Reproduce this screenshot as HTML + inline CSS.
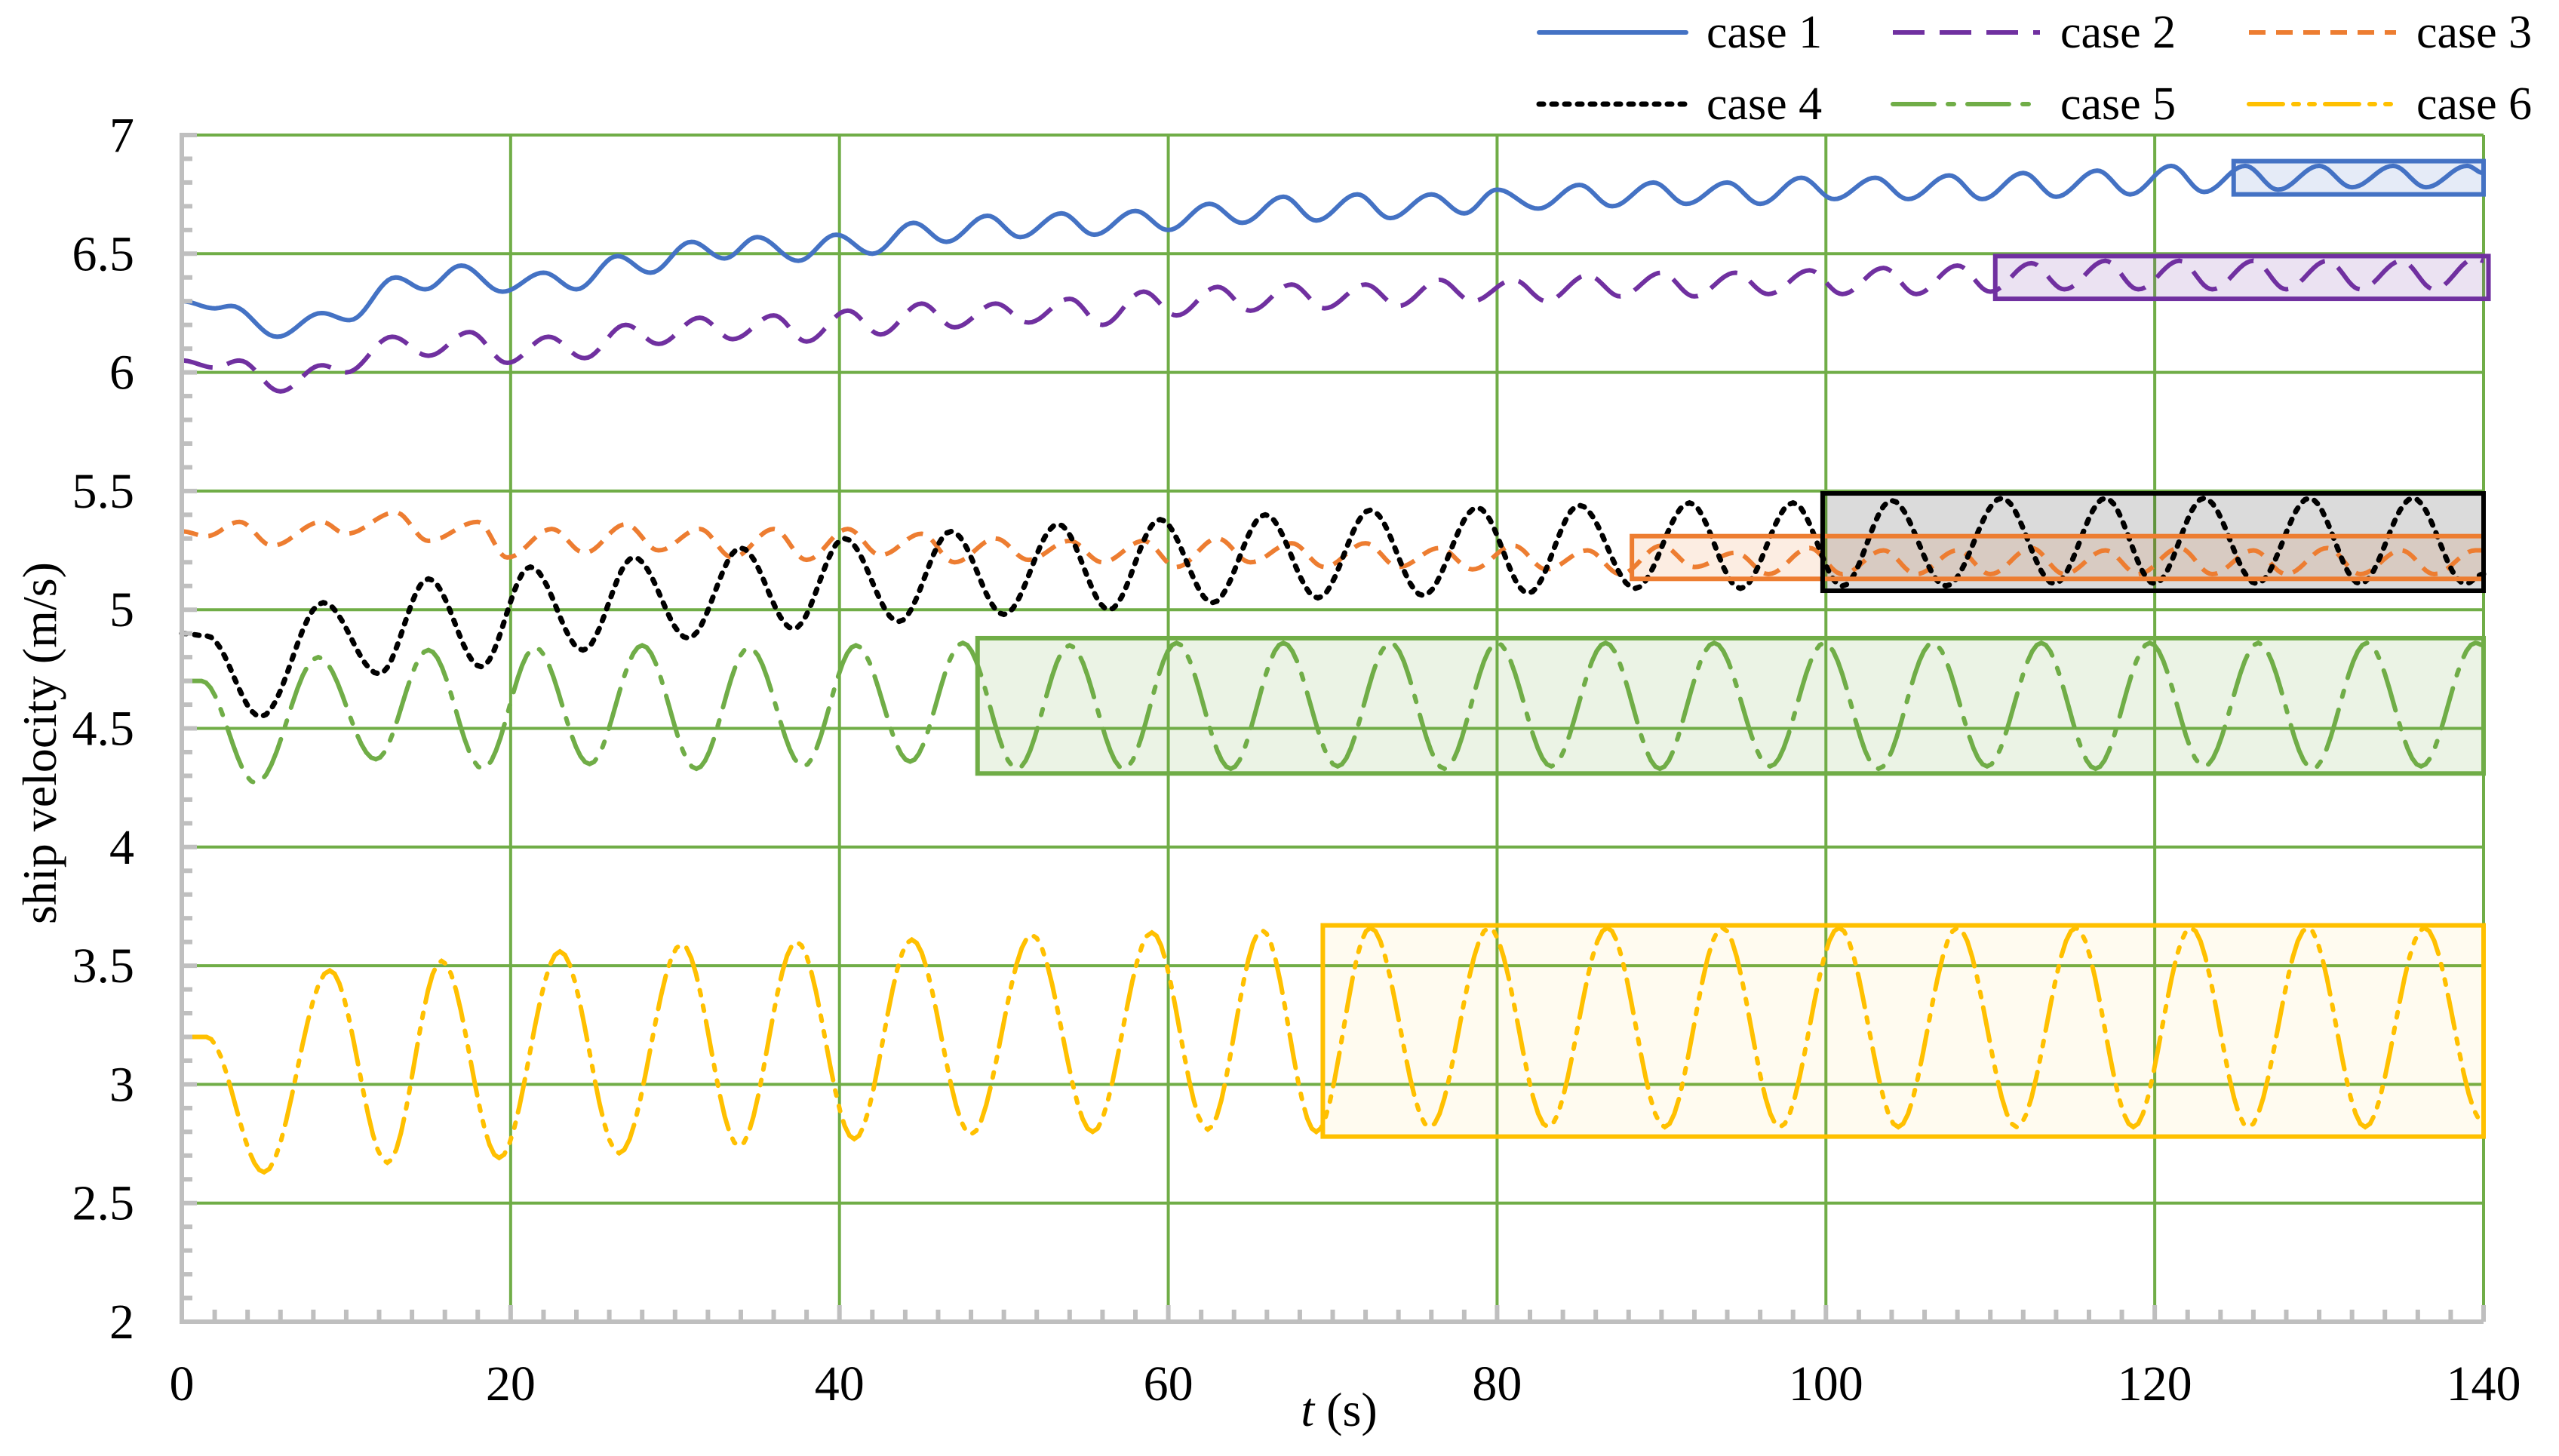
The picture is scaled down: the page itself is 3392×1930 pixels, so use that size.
<!DOCTYPE html>
<html><head><meta charset="utf-8"><style>
html,body{margin:0;padding:0;background:#fff;}
svg{display:block;font-family:"Liberation Serif",serif;}
</style></head><body>
<svg id="chart" width="3392" height="1930" viewBox="0 0 3392 1930" xmlns="http://www.w3.org/2000/svg">
<g id="grid"></g>
<g id="boxfill"></g>
<g id="series"></g>
<g id="boxes"></g>
<g id="axes"></g>
<g id="legend"></g>
<text x="0" y="0" font-size="64" text-anchor="middle" transform="translate(74,985) rotate(-90)">ship velocity (m/s)</text>
<text x="1775" y="1890" font-size="64" text-anchor="middle"><tspan font-style="italic">t</tspan> (s)</text>
</svg>
<script>
const xTicks=[0,20,40,60,80,100,120,140];
const yTicks=[2,2.5,3,3.5,4,4.5,5,5.5,6,6.5,7];
const names=["case 1","case 2","case 3","case 4","case 5","case 6"];
const t1=[0,2,3,5.8,8.5,10.2,13,14.8,17,19.5,22,24,26.5,28.5,31,33,35,37.5,39.8,42,44.5,46.5,49,51,53.5,55.5,58,60,62.5,64.5,67,69,71.5,73.5,76,78,80,82.5,85,87,89.5,91.5,94,96,98.5,100.5,103,105,107.5,109.5,112,114,116.5,118.5,121,123,125.5,127.5,130,132,134.5,136.5,139,140];
const v1=[6.30,6.27,6.28,6.15,6.25,6.22,6.40,6.35,6.45,6.34,6.42,6.35,6.49,6.42,6.55,6.48,6.57,6.47,6.58,6.50,6.63,6.55,6.66,6.57,6.67,6.58,6.68,6.60,6.71,6.63,6.74,6.64,6.75,6.65,6.75,6.67,6.77,6.69,6.79,6.70,6.80,6.71,6.80,6.71,6.82,6.73,6.82,6.73,6.83,6.73,6.84,6.74,6.85,6.75,6.87,6.76,6.87,6.77,6.87,6.78,6.87,6.78,6.87,6.84];
const t2=[0,2,3.5,6,8.5,10,12.8,15,17.5,19.8,22.3,24.5,27,29,31.5,33.5,36,38,40.5,42.5,45,47,49.5,51.5,54,56,58.5,60.5,63,65,67.5,69.5,72,74,76.5,78.5,81,83,85.5,87.5,90,92,94.5,96.5,99,101,103.5,105.5,108,110,112.5,114.5,117,119,121.5,123.5,126,128,130.5,132.5,135,137,139.5,140];
const v2=[6.05,6.02,6.05,5.92,6.03,6.0,6.15,6.07,6.17,6.04,6.15,6.06,6.2,6.12,6.23,6.14,6.24,6.13,6.26,6.16,6.29,6.19,6.29,6.21,6.31,6.2,6.34,6.24,6.36,6.26,6.37,6.27,6.37,6.28,6.39,6.3,6.39,6.3,6.41,6.32,6.42,6.32,6.42,6.33,6.43,6.33,6.44,6.33,6.45,6.34,6.46,6.35,6.47,6.35,6.47,6.35,6.47,6.35,6.47,6.35,6.47,6.35,6.48,6.47];
const t3=[0,1.5,3.5,5.5,8.5,10,13,15,18,19.8,22.5,24.5,27,29,31.5,33.5,36,38,40.5,42.5,45,47,49.5,51.5,54,56,58.5,60.5,63,65,67.5,69.5,72,74,76.5,78.5,81,83,85.5,87.5,90,92,94.5,96.5,99,101,103.5,105.5,108,110,112.5,114.5,117,119,121.5,123.5,126,128,130.5,132.5,135,137,139.5,140];
const v3=[5.33,5.31,5.37,5.27,5.37,5.32,5.41,5.29,5.37,5.22,5.34,5.24,5.36,5.25,5.34,5.22,5.34,5.21,5.34,5.23,5.32,5.2,5.3,5.21,5.29,5.2,5.29,5.18,5.3,5.2,5.28,5.18,5.28,5.18,5.26,5.17,5.27,5.17,5.25,5.15,5.27,5.18,5.24,5.15,5.26,5.15,5.25,5.15,5.25,5.15,5.26,5.15,5.25,5.15,5.26,5.15,5.25,5.15,5.26,5.15,5.25,5.15,5.25,5.25];
const t4=[0,1.5,4.8,8.6,12,15,18.2,21.2,24.4,27.5,30.8,34,37.2,40.3,43.6,46.8,50,53.3,56.4,59.5,62.7,65.9,69.1,72.3,75.5,78.8,81.9,85,88.4,91.7,94.8,98,101,104,107.3,110.7,113.9,117,120,123,126.2,129.4,132.5,135.7,138.9,140];
const v4=[4.9,4.89,4.55,5.03,4.73,5.13,4.76,5.18,4.83,5.22,4.88,5.26,4.92,5.3,4.95,5.33,4.98,5.36,5.0,5.38,5.03,5.4,5.05,5.42,5.06,5.43,5.07,5.44,5.09,5.45,5.09,5.45,5.1,5.46,5.1,5.47,5.11,5.47,5.11,5.47,5.11,5.47,5.11,5.47,5.11,5.15];
const t5=[0,1.2,4.5,8.3,11.8,15,18.3,21.5,24.8,28,31.3,34.5,37.8,41,44.3,47.5,50.8,54,57.3,60.5,63.8,67,70.3,73.5,76.8,80,83.3,86.6,89.9,93.2,96.6,99.9,103.2,106.5,109.8,113.1,116.4,119.7,123,126.3,129.6,132.9,136.2,139.5,140];
const v5=[4.70,4.70,4.27,4.80,4.37,4.83,4.33,4.84,4.35,4.85,4.33,4.84,4.34,4.85,4.36,4.86,4.33,4.85,4.33,4.86,4.33,4.86,4.34,4.86,4.33,4.86,4.34,4.86,4.33,4.86,4.34,4.86,4.33,4.86,4.34,4.86,4.33,4.86,4.34,4.86,4.33,4.86,4.34,4.86,4.85];
const t6=[0,1.5,5,9,12.5,15.8,19.3,23,26.6,30.4,33.9,37.4,40.9,44.4,48,51.7,55.4,59,62.4,65.7,69,72.3,75.9,79.5,83.1,86.7,90.2,93.7,97.2,100.8,104.4,108,111.6,115.2,118.7,122.2,125.7,129.3,132.8,136.4,140];
const v6=[3.2,3.2,2.63,3.48,2.67,3.52,2.69,3.56,2.71,3.59,2.74,3.6,2.77,3.61,2.79,3.63,2.8,3.64,2.81,3.65,2.8,3.66,2.82,3.66,2.82,3.66,2.82,3.66,2.82,3.66,2.82,3.66,2.82,3.66,2.82,3.66,2.82,3.66,2.82,3.66,2.84];
const box1=[124.8,140,6.75,6.89];
const box2=[110.3,140.3,6.31,6.49];
const box3=[88.2,140,5.13,5.31];
const box4=[99.8,140,5.08,5.49];
const box5=[48.4,140,4.31,4.88];
const box6=[69.4,140,2.78,3.67];

const X0=241,X1=3292,Y0=1752,Y1=179,TMAX=140,VMIN=2,VMAX=7;
const xs=t=>X0+(t/TMAX)*(X1-X0);
const ys=v=>Y0-(v-VMIN)/(VMAX-VMIN)*(Y0-Y1);
const NS="http://www.w3.org/2000/svg";
function mk(tag,parent){const e=document.createElementNS(NS,tag);parent.appendChild(e);return e;}
const grid=document.getElementById('grid'),axes=document.getElementById('axes');
yTicks.forEach(v=>{if(v===VMIN)return;const l=mk('line',grid);


l.setAttribute('x1',X0);l.setAttribute('x2',X1);l.setAttribute('y1',ys(v));l.setAttribute('y2',ys(v));l.setAttribute('stroke','#70AD47');l.setAttribute('stroke-width','4');});
xTicks.forEach(t=>{if(t===0)return;const l=mk('line',grid);


l.setAttribute('x1',xs(t));l.setAttribute('x2',xs(t));l.setAttribute('y1',Y1);l.setAttribute('y2',Y0-20);l.setAttribute('stroke','#70AD47');l.setAttribute('stroke-width','4');});
let a=mk('line',axes);


a.setAttribute('x1',X0);a.setAttribute('x2',X0);a.setAttribute('y1',Y1-3);a.setAttribute('y2',Y0+3);a.setAttribute('stroke','#BFBFBF');a.setAttribute('stroke-width','6');
a=mk('line',axes);


a.setAttribute('x1',X0-3);a.setAttribute('x2',X1);a.setAttribute('y1',Y0);a.setAttribute('y2',Y0);a.setAttribute('stroke','#BFBFBF');a.setAttribute('stroke-width','6');
for(let i=0;i<=50;i++){const v=VMIN+i*0.1;const l=mk('line',axes);


l.setAttribute('x1',X0);l.setAttribute('x2',X0+(i%5===0?20:14));l.setAttribute('y1',ys(v));l.setAttribute('y2',ys(v));l.setAttribute('stroke','#BFBFBF');l.setAttribute('stroke-width','6');}
for(let i=0;i<=70;i++){const t=i*2;const l=mk('line',axes);


l.setAttribute('x1',xs(t));l.setAttribute('x2',xs(t));l.setAttribute('y1',Y0);l.setAttribute('y2',Y0-(i%10===0?22:16));l.setAttribute('stroke','#BFBFBF');l.setAttribute('stroke-width','6');}
yTicks.forEach(v=>{const tx=mk('text',axes);


tx.setAttribute('x',178);tx.setAttribute('y',ys(v)+22);tx.setAttribute('font-size','66');tx.setAttribute('text-anchor','end');tx.textContent=String(v);});
xTicks.forEach(t=>{const tx=mk('text',axes);


tx.setAttribute('x',xs(t));tx.setAttribute('y',1856);tx.setAttribute('font-size','66');tx.setAttribute('text-anchor','middle');tx.textContent=String(t);});
const colors=['#4472C4','#7030A0','#ED7D31','#000000','#70AD47','#FFC000'];
const dashes=['','42 20','22 14','6 11','55 18 8 18','45 14 7 14 7 14'];
const caps=['round','butt','butt','round','round','round'];
const T=[t1,t2,t3,t4,t5,t6],V=[v1,v2,v3,v4,v5,v6];
const B=[box1,box2,box3,box4,box5,box6];
function pathFor(ts,vs){let d='M'+xs(ts[0]).toFixed(1)+','+ys(vs[0]).toFixed(1);
for(let i=0;i<ts.length-1;i++){const n=12;for(let k=1;k<=n;k++){const f=k/n;const e=(1-Math.cos(Math.PI*f))/2;
const t=ts[i]+(ts[i+1]-ts[i])*f;const v=vs[i]+(vs[i+1]-vs[i])*e;d+=' L'+xs(t).toFixed(1)+','+ys(v).toFixed(1);}}
return d;}
const sg=document.getElementById('series'),bf=document.getElementById('boxfill'),bx=document.getElementById('boxes');
B.forEach((b,i)=>{const r=mk('rect',bf);


r.setAttribute('x',xs(b[0]));r.setAttribute('y',ys(b[3]));r.setAttribute('width',xs(b[1])-xs(b[0]));r.setAttribute('height',ys(b[2])-ys(b[3]));r.setAttribute('fill',colors[i]);r.setAttribute('fill-opacity',i===5?'0.06':'0.14');});
T.forEach((ts,i)=>{const p=mk('path',sg);


p.setAttribute('d',pathFor(ts,V[i]));p.setAttribute('fill','none');p.setAttribute('stroke',colors[i]);p.setAttribute('stroke-width',i===3?'7':'6');
if(dashes[i])p.setAttribute('stroke-dasharray',dashes[i]);p.setAttribute('stroke-linecap',caps[i]);});
B.forEach((b,i)=>{const r=mk('rect',bx);


r.setAttribute('x',xs(b[0]));r.setAttribute('y',ys(b[3]));r.setAttribute('width',xs(b[1])-xs(b[0]));r.setAttribute('height',ys(b[2])-ys(b[3]));r.setAttribute('fill','none');r.setAttribute('stroke',colors[i]);r.setAttribute('stroke-width','6');});
const lg=document.getElementById('legend');
const lx=[2040,2509,2981],ly=[43,138];
names.forEach((n,i)=>{const c=i%3,r=Math.floor(i/3);const g=mk('g',lg);


const l=mk('line',g);l.setAttribute('x1',lx[c]);l.setAttribute('x2',lx[c]+195);l.setAttribute('y1',ly[r]);l.setAttribute('y2',ly[r]);
l.setAttribute('stroke',colors[i]);l.setAttribute('stroke-width',i===3?'7':'6');if(dashes[i])l.setAttribute('stroke-dasharray',dashes[i]);l.setAttribute('stroke-linecap',caps[i]);
const tx=mk('text',g);tx.setAttribute('x',lx[c]+222);tx.setAttribute('y',ly[r]+20);tx.setAttribute('font-size','62');tx.textContent=n;});
</script>
</body></html>
